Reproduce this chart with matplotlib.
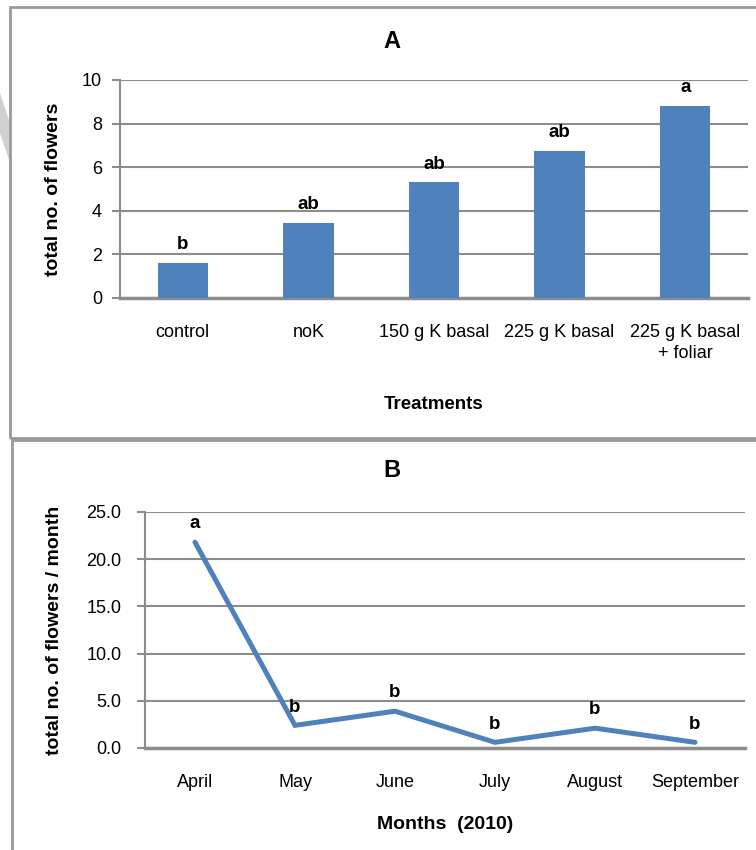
"""Flower counts by K treatment (A) and by month (B)."""
import matplotlib
matplotlib.use("Agg")
import matplotlib.pyplot as plt
from matplotlib.patches import Rectangle, Polygon

plt.rcParams['font.family'] = ['Liberation Sans', 'DejaVu Sans']

# panel A data
treatments = ['control', 'noK', '150 g K basal', '225 g K basal',
              '225 g K basal\n+ foliar']
flowers = [1.6, 3.45, 5.3, 6.75, 8.8]
letters_a = ['b', 'ab', 'ab', 'ab', 'a']

# panel B data
months = ['April', 'May', 'June', 'July', 'August', 'September']
flowers_month = [21.8, 2.4, 3.9, 0.6, 2.1, 0.6]
letters_b = ['a', 'b', 'b', 'b', 'b', 'b']

blue = '#4f81bd'
grey = '#8c8c8c'
W, H = 756, 850

fig = plt.figure(figsize=(W / 100, H / 100), dpi=100)


def px(x, y):
    """pixel coords (from top-left) to figure fraction"""
    return x / W, 1 - y / H


def style_axes(ax, ypad):
    for s in ('top', 'right'):
        ax.spines[s].set_visible(False)
    ax.spines['left'].set_color(grey)
    ax.spines['left'].set_linewidth(1.5)
    ax.spines['bottom'].set_color(grey)
    ax.spines['bottom'].set_linewidth(2.5)
    ax.grid(axis='y', color=grey, linewidth=1.5)
    ax.set_axisbelow(True)
    ax.tick_params(axis='y', length=6, width=1.5, color=grey,
                   labelsize=13, pad=ypad)
    ax.tick_params(axis='x', length=0, labelsize=13, pad=19)


# panel frames
fig.patches.append(Rectangle(px(10, 438), (W + 20) / W, 431 / H,
                             transform=fig.transFigure, fill=False,
                             edgecolor='#999999', linewidth=2))
fig.patches.append(Rectangle(px(12, H + 20), (W + 20) / W, (H - 440 + 20) / H,
                             transform=fig.transFigure, fill=False,
                             edgecolor='#999999', linewidth=2))
fig.patches.append(Polygon([px(0, 93), px(9, 120), px(9, 160), px(0, 133)],
                           closed=True, transform=fig.transFigure,
                           facecolor='#d0d0d0', edgecolor='none'))

# ---- A: bar chart
l, b = px(120, 298)
r, t = px(748, 80)
ax_a = fig.add_axes([l, b, r - l, t - b])
x_a = range(len(treatments))
ax_a.bar(x_a, flowers, width=0.4, color=blue, zorder=3)
for xi, v, lab in zip(x_a, flowers, letters_a):
    ax_a.annotate(lab, (xi, v), xytext=(0, 7), textcoords='offset points',
                  ha='center', va='bottom', fontsize=13.5, fontweight='bold')
ax_a.set_xlim(-0.5, len(treatments) - 0.5)
ax_a.set_ylim(0, 10)
ax_a.set_yticks(range(0, 11, 2))
ax_a.set_xticks(list(x_a))
ax_a.set_xticklabels(treatments, linespacing=1.3)
style_axes(ax_a, 7)
ax_a.set_ylabel('total no. of flowers', fontsize=14, fontweight='bold')
ax_a.yaxis.set_label_coords(-0.093, 0.5)
ax_a.set_xlabel('Treatments', fontsize=13.5, fontweight='bold')
ax_a.xaxis.set_label_coords(0.5, -0.45)
fig.text(*px(392, 42), 'A', ha='center', va='center', fontsize=17,
         fontweight='bold')

# ---- B: line chart
l, b = px(145, 748)
r, t = px(745, 512)
ax_b = fig.add_axes([l, b, r - l, t - b])
x_b = range(len(months))
ax_b.plot(x_b, flowers_month, color=blue, linewidth=3.6, zorder=3,
          solid_capstyle='round', solid_joinstyle='miter')
for xi, v, lab in zip(x_b, flowers_month, letters_b):
    ax_b.annotate(lab, (xi, v), xytext=(0, 7), textcoords='offset points',
                  ha='center', va='bottom', fontsize=13.5, fontweight='bold')
ax_b.set_xlim(-0.5, len(months) - 0.5)
ax_b.set_ylim(0, 25)
ax_b.set_yticks([0, 5, 10, 15, 20, 25])
ax_b.set_yticklabels([f'{v:.1f}' for v in [0, 5, 10, 15, 20, 25]])
ax_b.set_xticks(list(x_b))
ax_b.set_xticklabels(months)
style_axes(ax_b, 11)
ax_b.set_ylabel('total no. of flowers / month', fontsize=14,
                fontweight='bold')
ax_b.yaxis.set_label_coords(-0.137, 0.5)
ax_b.set_xlabel('Months  (2010)', fontsize=14, fontweight='bold')
ax_b.xaxis.set_label_coords(0.5, -0.29)
fig.text(*px(392, 470), 'B', ha='center', va='center', fontsize=17,
         fontweight='bold')

fig.savefig('out.png', dpi=100)
